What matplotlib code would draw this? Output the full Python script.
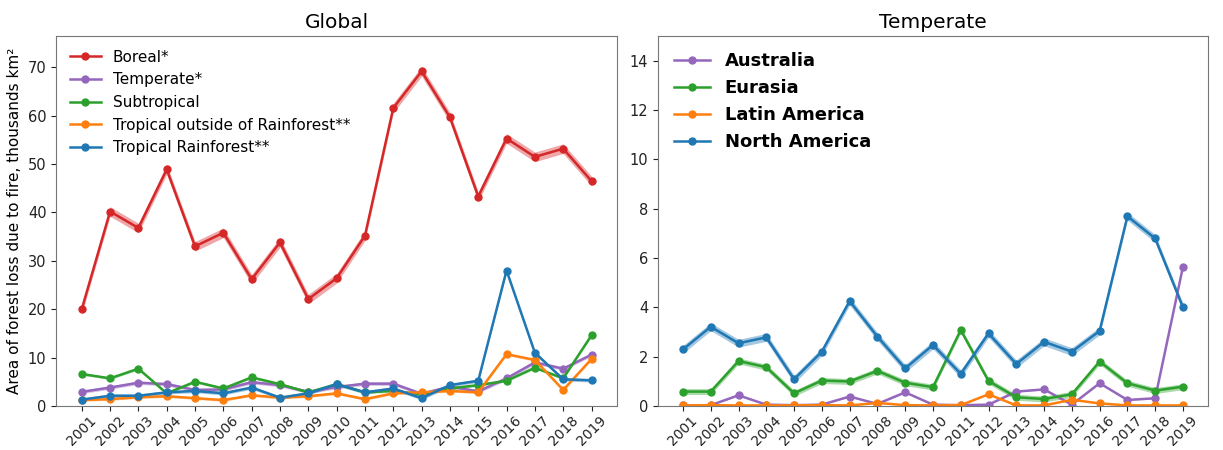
import numpy as np
import matplotlib
matplotlib.use('Agg')
import matplotlib.pyplot as plt

years = list(range(2001, 2020))

# Global panel, thousands km^2
boreal = [20.0, 40.2, 36.8, 48.9, 33.0, 35.8, 26.2, 33.8, 22.1, 26.4,
          35.2, 61.6, 69.2, 59.7, 43.3, 55.3, 51.5, 53.2, 46.5]
temperate = [2.9, 3.8, 4.8, 4.5, 3.3, 3.4, 4.9, 4.3, 2.9, 3.9,
             4.6, 4.6, 2.5, 4.0, 3.0, 5.7, 9.0, 7.7, 10.6]
subtropical = [6.6, 5.7, 7.7, 2.6, 5.0, 3.6, 5.9, 4.5, 2.8, 4.5,
               2.8, 3.1, 2.4, 3.6, 4.3, 5.2, 7.9, 5.7, 14.6]
trop_outside = [1.2, 1.4, 1.8, 2.0, 1.6, 1.2, 2.2, 1.7, 2.0, 2.6,
                1.4, 2.6, 2.8, 3.1, 2.8, 10.7, 9.5, 3.3, 9.7]
trop_rainforest = [1.3, 2.1, 2.1, 2.8, 3.1, 2.6, 3.8, 1.7, 2.6, 4.5,
                   2.8, 3.6, 1.6, 4.3, 5.2, 28.0, 11.0, 5.5, 5.3]

# Temperate panel
australia = [0.02, 0.03, 0.43, 0.05, 0.03, 0.05, 0.38, 0.08, 0.55, 0.05,
             0.03, 0.05, 0.58, 0.67, 0.05, 0.92, 0.24, 0.31, 5.64]
eurasia = [0.58, 0.58, 1.82, 1.57, 0.51, 1.03, 0.99, 1.42, 0.94, 0.76,
           3.08, 1.01, 0.35, 0.28, 0.47, 1.80, 0.92, 0.62, 0.78]
latin_america = [0.02, 0.03, 0.02, 0.02, 0.02, 0.03, 0.02, 0.12, 0.03, 0.02,
                 0.03, 0.47, 0.02, 0.02, 0.25, 0.10, 0.02, 0.02, 0.02]
north_america = [2.29, 3.21, 2.54, 2.78, 1.08, 2.20, 4.25, 2.81, 1.52, 2.47,
                 1.30, 2.94, 1.70, 2.60, 2.20, 3.04, 7.69, 6.79, 4.00]

# half-width of the shaded uncertainty band (absolute, per series)
global_series = [
    ('Boreal*', boreal, 'tab:red', 1.0),
    ('Temperate*', temperate, 'tab:purple', 0.35),
    ('Subtropical', subtropical, 'tab:green', 0.25),
    ('Tropical outside of Rainforest**', trop_outside, 'tab:orange', 0.25),
    ('Tropical Rainforest**', trop_rainforest, 'tab:blue', 0.35),
]
temperate_series = [
    ('Australia', australia, 'tab:purple', 0.02),
    ('Eurasia', eurasia, 'tab:green', 0.12),
    ('Latin America', latin_america, 'tab:orange', 0.02),
    ('North America', north_america, 'tab:blue', 0.16),
]

fig = plt.figure(figsize=(12.23, 4.5), dpi=100)
ax1 = fig.add_axes([0.046, 0.098, 0.4585, 0.822])
ax2 = fig.add_axes([0.538, 0.098, 0.4497, 0.822])


def draw(ax, series):
    for label, vals, color, err in series:
        v = np.array(vals)
        ax.fill_between(years, v - err, v + err, color=color,
                        alpha=0.4, linewidth=0)
        ax.plot(years, v, '-o', color=color, label=label, linewidth=1.8,
                markersize=5)
    ax.set_xticks(years)
    ax.set_xticklabels([str(y) for y in years], rotation=45)
    ax.tick_params(axis='y', labelsize=10.5, colors='#222222')
    ax.tick_params(axis='x', labelsize=10, colors='#222222', pad=2)
    for s in ax.spines.values():
        s.set_color('#777777')


draw(ax1, global_series)
ax1.set_ylim(0, 76.5)
ax1.set_title('Global', fontsize=14.5)
ax1.set_ylabel('Area of forest loss due to fire, thousands km²', fontsize=11)
ax1.legend(loc='upper left', frameon=False, fontsize=11)

draw(ax2, temperate_series)
ax2.set_ylim(0, 15)
ax2.set_title('Temperate', fontsize=14.5)
ax2.legend(loc='upper left', frameon=False, prop={'size': 13, 'weight': 'bold'})

fig.savefig('out.png', dpi=100)
